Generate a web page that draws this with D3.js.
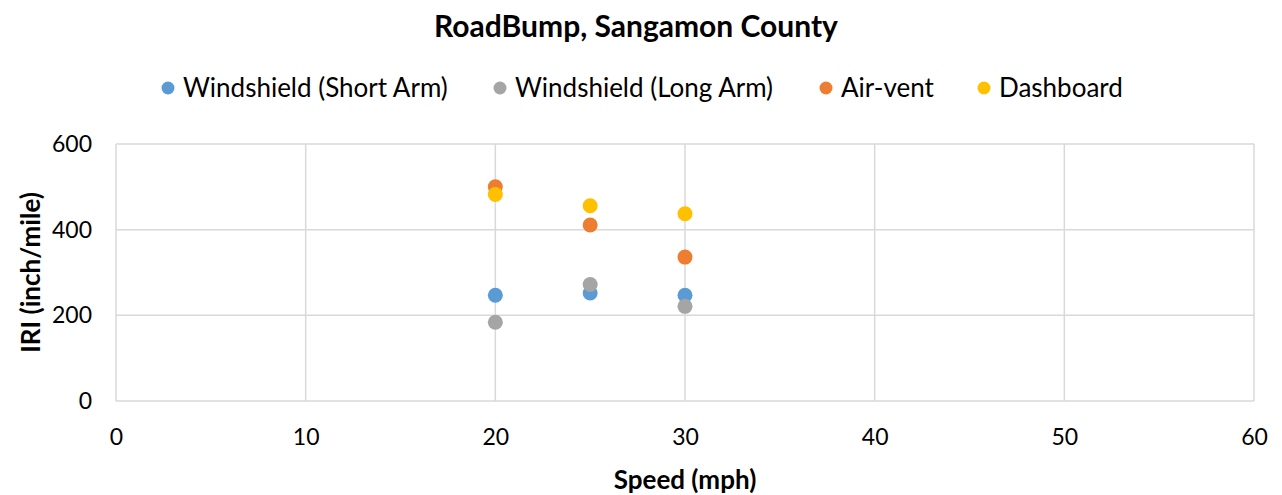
<!DOCTYPE html>
<html>
<head>
<meta charset="utf-8">
<script src="https://cdn.jsdelivr.net/npm/d3@7"></script>
<style>
  body { margin: 0; background: #fff; }
  text { font-family: Lato, "Open Sans", sans-serif; fill: #000; }
</style>
</head>
<body>
<svg width="1282" height="495"></svg>
<script>
const speeds = [20, 25, 30];
const seriesNames = ["Windshield (Short Arm)", "Windshield (Long Arm)", "Air-vent", "Dashboard"];
const shortArm = [247, 252, 247];
const longArm = [184, 272, 221];
const airVent = [500, 411, 336];
const dashboard = [482, 456, 437];
const xTicks = [0, 10, 20, 30, 40, 50, 60];
const yTicks = [0, 200, 400, 600];
const colors = ["#5B9BD5", "#A5A5A5", "#ED7D31", "#FFC000"];

const svg = d3.select("svg");
const plotLeft = 116, plotRight = 1254, plotTop = 144, plotBottom = 401;

const x = d3.scaleLinear().domain([0, 60]).range([plotLeft, plotRight]);
const y = d3.scaleLinear().domain([0, 600]).range([plotBottom, plotTop]);

// title
svg.append("text")
  .attr("x", 636).attr("y", 37)
  .attr("text-anchor", "middle")
  .attr("font-size", 30).attr("font-weight", "bold")
  .text("RoadBump, Sangamon County");

// grid
const grid = svg.append("g").attr("stroke", "#D9D9D9").attr("stroke-width", 1.5);
grid.selectAll(".gx").data(xTicks).enter().append("line")
  .attr("x1", d => x(d)).attr("x2", d => x(d))
  .attr("y1", plotTop).attr("y2", plotBottom);
grid.selectAll(".gy").data(yTicks).enter().append("line")
  .attr("x1", plotLeft).attr("x2", plotRight)
  .attr("y1", d => y(d)).attr("y2", d => y(d));

// axes labels
const xAxis = d3.axisBottom(x).tickValues(xTicks).tickSize(0).tickPadding(28);
svg.append("g").attr("transform", `translate(0,${plotBottom})`).call(xAxis)
  .call(g => g.select(".domain").remove())
  .selectAll("text").attr("font-size", 23).attr("font-family", "Lato, sans-serif").attr("fill", "#000");

const yAxis = d3.axisLeft(y).tickValues(yTicks).tickSize(0).tickPadding(24);
svg.append("g").attr("transform", `translate(${plotLeft},0)`).call(yAxis)
  .call(g => g.select(".domain").remove())
  .selectAll("text").attr("font-size", 23).attr("font-family", "Lato, sans-serif").attr("fill", "#000");

svg.append("text")
  .attr("x", (plotLeft + plotRight) / 2).attr("y", 489)
  .attr("text-anchor", "middle")
  .attr("font-size", 26).attr("font-weight", "bold")
  .text("Speed (mph)");

svg.append("text")
  .attr("transform", `translate(40,${(plotTop + plotBottom) / 2}) rotate(-90)`)
  .attr("text-anchor", "middle")
  .attr("font-size", 26).attr("font-weight", "bold")
  .text("IRI (inch/mile)");

// points
const allSeries = [shortArm, longArm, airVent, dashboard];
allSeries.forEach((vals, i) => {
  svg.append("g").selectAll("circle")
    .data(speeds.map((s, j) => ({ s: s, v: vals[j] })))
    .enter().append("circle")
    .attr("cx", d => x(d.s)).attr("cy", d => y(d.v))
    .attr("r", 7.5)
    .attr("fill", colors[i]);
});

// legend
const legendX = [168, 500, 826, 984];
const legend = svg.append("g");
seriesNames.forEach((name, i) => {
  legend.append("circle")
    .attr("cx", legendX[i]).attr("cy", 88).attr("r", 6.5)
    .attr("fill", colors[i]);
  legend.append("text")
    .attr("x", legendX[i] + 15).attr("y", 97)
    .attr("font-size", 26)
    .text(name);
});
</script>
</body>
</html>
